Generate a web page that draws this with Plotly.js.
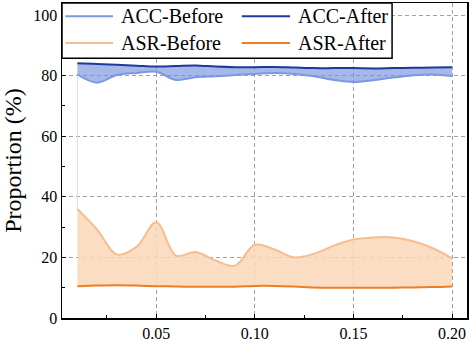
<!DOCTYPE html>
<html>
<head>
<meta charset="utf-8">
<script src="https://cdn.plot.ly/plotly-3.0.1.min.js"></script>
<style>
  html, body { margin: 0; padding: 0; background: #fff; }
  #chart { width: 469px; height: 341px; }
</style>
</head>
<body>
<div id="chart"></div>
<script>
// poisoning rate on the x axis
const rates = [0.01, 0.02, 0.03, 0.04, 0.05, 0.06, 0.07, 0.08, 0.09, 0.10,
               0.11, 0.12, 0.13, 0.14, 0.15, 0.16, 0.17, 0.18, 0.19, 0.20];

const accBefore = [80.4, 77.7, 80.2, 80.9, 81.3, 78.6, 79.5, 79.8, 80.2, 80.6,
                   80.9, 80.6, 79.8, 78.6, 77.9, 78.5, 79.4, 80.1, 80.4, 79.9];
const accAfter  = [84.1, 83.9, 83.6, 83.3, 83.0, 83.2, 83.4, 83.0, 82.8, 82.8,
                   82.9, 82.7, 82.5, 82.5, 82.5, 82.4, 82.5, 82.6, 82.7, 82.8];
const asrBefore = [36.0, 29.2, 21.0, 23.5, 31.6, 20.6, 21.8, 19.0, 17.3, 24.2,
                   22.6, 20.0, 21.2, 23.9, 25.9, 26.6, 26.6, 25.4, 23.1, 19.7];
const asrAfter  = [10.5, 10.7, 10.8, 10.7, 10.5, 10.4, 10.3, 10.3, 10.3, 10.6,
                   10.6, 10.4, 10.1, 10.0, 10.0, 10.0, 10.0, 10.1, 10.2, 10.4];

const seriesNames = ['ACC-Before', 'ACC-After', 'ASR-Before', 'ASR-After'];
const seriesColors = ['#7b98e2', '#1d3a9a', '#f7bd8e', '#f07d1f'];

const yTicks = [0, 20, 40, 60, 80, 100];
const xTicks = [0.05, 0.10, 0.15, 0.20];
const xTickText = ['0.05', '0.10', '0.15', '0.20'];

const serif = "'Liberation Serif', 'Times New Roman', serif";

function line(y, i) {
    return { x: rates, y: y, type: 'scatter', mode: 'lines', name: seriesNames[i], showlegend: false,
             line: { color: seriesColors[i], width: 2, shape: 'spline', smoothing: 1 } };
}

function band(y, fill, color) {
    return { x: rates, y: y, type: 'scatter', mode: 'lines', showlegend: false,
             hoverinfo: 'skip', fill: fill, fillcolor: color,
             line: { width: 0, shape: 'spline', smoothing: 1 } };
}

const data = [
    // shaded bands first
    band(accBefore, 'none', 'rgba(0,0,0,0)'),
    band(accAfter, 'tonexty', 'rgba(110,140,220,0.62)'),
    band(asrAfter, 'none', 'rgba(0,0,0,0)'),
    band(asrBefore, 'tonexty', 'rgba(250,215,185,0.85)'),
    // thin edge on the left
    { x: [rates[0], rates[0]], y: [asrBefore[0], accBefore[0]], type: 'scatter', mode: 'lines',
      showlegend: false, hoverinfo: 'skip', line: { color: '#d8dcef', width: 1 } },
    line(accBefore, 0),
    line(accAfter, 1),
    line(asrBefore, 2),
    line(asrAfter, 3)
];

// legend box drawn by hand (2 x 2, tight rows like the original)
const legCols = [[0.008, 0.126, 0.141], [0.444, 0.563, 0.578]];
const legRows = [0.958, 0.873];
const shapes = [{
    type: 'rect', xref: 'paper', yref: 'paper', x0: 0, x1: 0.815, y0: 0.825, y1: 1,
    fillcolor: '#fff', line: { color: '#000', width: 1.5 }, layer: 'above'
}];
const annotations = [];
seriesNames.forEach((name, i) => {
    const c = legCols[i % 2], r = legRows[Math.floor(i / 2)];
    shapes.push({ type: 'line', xref: 'paper', yref: 'paper', x0: c[0], x1: c[1], y0: r, y1: r,
                  line: { color: seriesColors[i], width: 2 }, layer: 'above' });
    annotations.push({ xref: 'paper', yref: 'paper', x: c[2], y: r, xanchor: 'left', yanchor: 'middle',
                       text: name, showarrow: false, font: { family: serif, size: 20, color: '#000' } });
});

const layout = {
    width: 469,
    height: 341,
    margin: { l: 62, r: 2, t: 3, b: 23 },
    paper_bgcolor: '#fff',
    plot_bgcolor: '#fff',
    font: { family: serif, color: '#000', size: 16 },
    showlegend: false,
    shapes: shapes,
    annotations: annotations,
    xaxis: {
        range: [0.0022, 0.2076],
        tickvals: xTicks,
        ticktext: xTickText,
        ticks: 'inside',
        ticklen: 4,
        tickcolor: '#000',
        showline: true,
        mirror: true,
        linecolor: '#000',
        linewidth: 1.5,
        showgrid: true,
        gridcolor: '#a0a0a0',
        griddash: '4px,3px',
        gridwidth: 1,
        zeroline: false,
        minor: { dtick: 0.025, tick0: 0, ticks: 'inside', ticklen: 3, tickcolor: '#000', showgrid: false },
        tickfont: { family: serif, size: 16, color: '#000' }
    },
    yaxis: {
        range: [0, 104],
        tickvals: yTicks,
        ticks: 'inside',
        ticklen: 4,
        tickcolor: '#000',
        showline: true,
        mirror: true,
        linecolor: '#000',
        linewidth: 1.5,
        showgrid: true,
        gridcolor: '#a0a0a0',
        griddash: '4px,3px',
        gridwidth: 1,
        zeroline: false,
        minor: { dtick: 10, tick0: 0, ticks: 'inside', ticklen: 3, tickcolor: '#000', showgrid: false },
        tickfont: { family: serif, size: 16, color: '#000' },
        title: { text: 'Proportion (%)', font: { family: serif, size: 24, color: '#000' }, standoff: 13 }
    }
};

Plotly.newPlot('chart', data, layout, { displayModeBar: false, staticPlot: true });
</script>
</body>
</html>
